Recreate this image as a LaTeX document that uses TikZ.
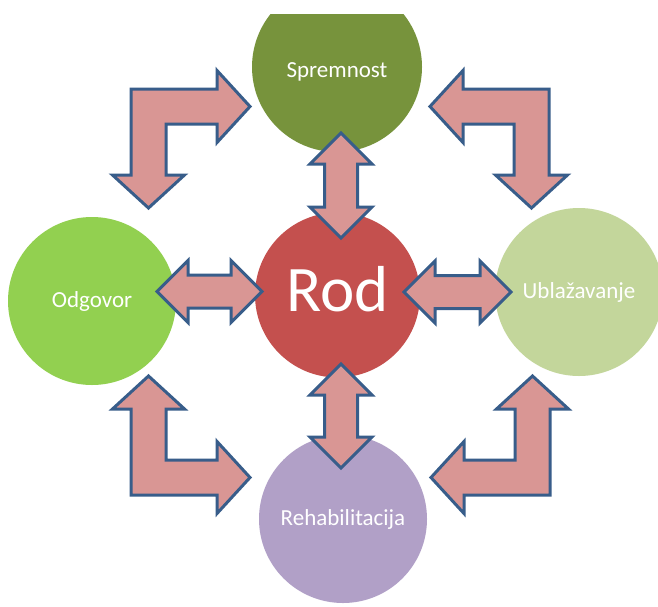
\documentclass[tikz,border=0pt]{standalone}
\usepackage{fontspec}
\setmainfont{Carlito}
\usetikzlibrary{calc}

\definecolor{spremgreen}{HTML}{77933C}
\definecolor{rodred}{HTML}{C4504E}
\definecolor{odggreen}{HTML}{92D050}
\definecolor{ublgreen}{HTML}{C3D69B}
\definecolor{rehpurple}{HTML}{B1A0C7}
\definecolor{arrowfill}{HTML}{D99694}
\definecolor{arrowline}{HTML}{385D8A}

\newcommand{\bentarrow}[2]{%
  \begin{scope}[shift={#1}, #2]
    \draw[blockarrow] (0,0) -- (86,0) -- (86,-18.5) -- (119,17.5) -- (86,53.5) -- (86,35) -- (35,35) -- (35,86) -- (53.5,86) -- (17.5,119) -- (-18.5,86) -- (0,86) -- cycle;
  \end{scope}}
\newcommand{\dblarrow}[3]{%
  \begin{scope}[shift={#1}, rotate=#2]
    \draw[blockarrow] ({-#3/2},0) -- ({-#3/2+31},-31) -- ({-#3/2+31},-16.5) -- ({#3/2-31},-16.5) -- ({#3/2-31},-31) -- ({#3/2},0) -- ({#3/2-31},31) -- ({#3/2-31},16.5) -- ({-#3/2+31},16.5) -- ({-#3/2+31},31) -- cycle;
  \end{scope}}

\begin{document}
\begin{tikzpicture}[x=1pt, y=-1pt,
    circ/.style={circle, minimum size=#1, inner sep=0pt, text=white, font=\fontsize{23}{27}\selectfont},
    blockarrow/.style={fill=arrowfill, draw=arrowline, line width=3pt, line join=miter}]
	\useasboundingbox (0,0) rectangle (658,606);
	\fill[white] (0,0) rectangle (658,606);

	\begin{scope}
		\clip (0,14) rectangle (658,606);
		\node[circ=170pt, fill=spremgreen, text height=24pt, text depth=4pt] (sprem) at (337,67) {Spremnost};
	\end{scope}
	\node[circ=165pt, fill=rodred, font=\fontsize{65}{70}\selectfont, text depth=12pt] (rod) at (337.5,295) {Rod};
	\node[circ=168pt, fill=odggreen] (odg) at (92,301) {Odgovor};
	\node[circ=168pt, fill=ublgreen] (ubl) at (579,292) {Ublažavanje};
	\node[circ=168pt, fill=rehpurple] (reh) at (343,519) {Rehabilitacija};

	\bentarrow{(131,89)}{}
	\bentarrow{(549,89)}{xscale=-1}
	\bentarrow{(131,495)}{yscale=-1}
	\bentarrow{(550,495)}{xscale=-1, yscale=-1}

	\dblarrow{(341,185.5)}{90}{105}
	\dblarrow{(341,416)}{90}{104}
	\dblarrow{(209.5,291.5)}{0}{105}
	\dblarrow{(457.5,292)}{0}{107}
\end{tikzpicture}
\end{document}
